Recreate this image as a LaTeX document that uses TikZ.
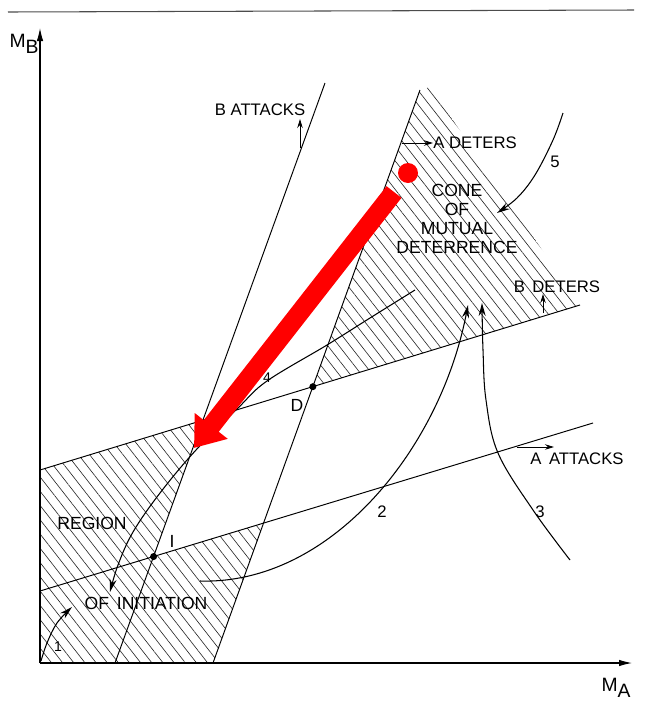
\documentclass[tikz,border=0pt]{standalone}
\usepackage{fontspec}
\setmainfont{Liberation Sans}
\usetikzlibrary{arrows.meta,patterns.meta}

\begin{document}
\begin{tikzpicture}[x=0.02cm, y=-0.02cm,
  axis/.style={line width=0.6pt, -{Latex[length=2.6mm,width=1.3mm]}},
  bound/.style={line width=0.55pt},
  hatch/.style={pattern={Lines[angle=-52,distance=5pt,line width=0.35pt]}, pattern color=black!85},
  flow/.style={line width=0.6pt, -{Stealth[length=2.6mm,width=1.4mm]}},
  tick/.style={line width=0.5pt, -{Stealth[length=1.8mm,width=1.1mm]}},
  lbl/.style={font=\fontsize{9.5}{11}\selectfont, inner sep=0pt, align=center},
  dot/.style={circle, fill=black, minimum size=4pt, inner sep=0pt},
  bigarrow/.style={red, line width=0.38cm, -{Triangle[length=0.56cm,width=0.8cm]}}]

  \useasboundingbox (0,0) rectangle (647,711);

  % page edge of the scan
  \coordinate (edgeL) at (8,12);  \coordinate (edgeR) at (634,10);
  \draw[black!70, line width=0.6pt] (edgeL) -- (edgeR);

  % ends of the four boundary lines
  \coordinate (BAtop) at (325,83);  \coordinate (BAbot) at (115,663);   % B attacks
  \coordinate (ADtop) at (420,90);  \coordinate (ADbot) at (213,663);   % A deters
  \coordinate (BDl) at (40,470);    \coordinate (BDr) at (580,305);     % B deters
  \coordinate (AAl) at (40,591);    \coordinate (AAr) at (593,423);     % A attacks
  \coordinate (conetop) at (430,87);

  % crossing points
  \coordinate (D) at (intersection of ADtop--ADbot and BDl--BDr);
  \coordinate (I) at (intersection of BAtop--BAbot and AAl--AAr);
  \coordinate (P) at (intersection of BAtop--BAbot and BDl--BDr);
  \coordinate (Q) at (intersection of ADtop--ADbot and AAl--AAr);

  % hatched regions
  \fill[hatch] (D) -- (ADtop) -- (conetop) -- (BDr) -- cycle;
  \fill[hatch] (BDl) -- (P) -- (I) -- (Q) -- (ADbot) -- (40,663) -- cycle;

  % axes
  \coordinate (O) at (40,663);
  \coordinate (MBend) at (40,28);  \coordinate (MAend) at (632,663);
  \draw[axis] (O) -- (MBend);
  \draw[axis] (O) -- (MAend);
  \node[lbl, font=\fontsize{11}{12}\selectfont] (MB) at (24,44) {M\raisebox{-0.6ex}{B}};
  \node[lbl, font=\fontsize{11}{12}\selectfont] (MA) at (616,688) {M\raisebox{-0.6ex}{A}};

  % boundary lines
  \draw[bound] (BAtop) -- (BAbot);
  \draw[bound] (ADtop) -- (ADbot);
  \draw[bound] (BDl) -- (BDr);
  \draw[bound] (AAl) -- (AAr);
  \node[dot] (Ddot) at (D) {};
  \node[dot] (Idot) at (I) {};

  % labels of the lines, with their small arrows
  \node[lbl] (batt) at (260,110) {B ATTACKS};
  \coordinate (battF) at (300,148); \coordinate (battT) at (300,119);
  \draw[tick] (battF) -- (battT);
  \node[lbl, anchor=west] (adet) at (433,143) {A DETERS};
  \coordinate (adetF) at (402,143);
  \draw[tick] (adetF) -- (adet.west);
  \node[lbl] (bdet) at (557,287) {B\, DETERS};
  \coordinate (bdetF) at (543,313); \coordinate (bdetT) at (543,294);
  \draw[tick] (bdetF) -- (bdetT);
  \node[lbl] (aatt) at (577,459) {A\, ATTACKS};
  \coordinate (aattF) at (517,447); \coordinate (aattT) at (554,447);
  \draw[tick] (aattF) -- (aattT);

  % region names
  \node[lbl, font=\fontsize{10}{10.9}\selectfont] (cone) at (457,219) {CONE\\OF\\MUTUAL\\DETERRENCE};
  \node[lbl, font=\fontsize{10}{11}\selectfont] (reg) at (92,523) {REGION};
  \node[lbl, font=\fontsize{10}{11}\selectfont] (init) at (146,603) {OF\, INITIATION};
  \node[lbl, font=\fontsize{10}{11}\rmfamily] (Ilbl) at (172,541) {I};
  \node[lbl, font=\fontsize{10}{11}\selectfont] (Dlbl) at (297,405) {D};

  % paths 1 to 5
  \draw[flow] plot[smooth, tension=0.6] coordinates {(41,661) (47,643) (57,623) (72,607)};
  \node[lbl, font=\fontsize{8}{9}\selectfont] (one) at (58,647) {1};
  \draw[flow] (200,581) .. controls (330,585) and (440,450) .. (468,305);
  \node[lbl] (two) at (382,512) {2};
  \draw[flow] plot[smooth, tension=0.6] coordinates {(570,560) (533,510) (498,453) (486,400) (483,350) (482,303)};
  \node[lbl] (three) at (540,512) {3};
  \draw[flow] plot[smooth, tension=0.6] coordinates {(415,290) (370,318) (327,345) (267,381) (238,408) (196,450) (160,493) (133,532) (118,565) (110,592)};
  \node[lbl, font=\fontsize{8}{9}\selectfont] (four) at (267,378) {4};
  \draw[flow] plot[smooth, tension=0.6] coordinates {(563,113) (553,140) (535,175) (517,198) (497,213)};
  \node[lbl] (five) at (555,162) {5};

  % red marks
  \node[circle, fill=red, minimum size=0.4cm, inner sep=0pt] (rdot) at (408,173) {};
  \coordinate (rfrom) at (394,192); \coordinate (rto) at (194,448);
  \draw[bigarrow] (rfrom) -- (rto);
\end{tikzpicture}
\end{document}
